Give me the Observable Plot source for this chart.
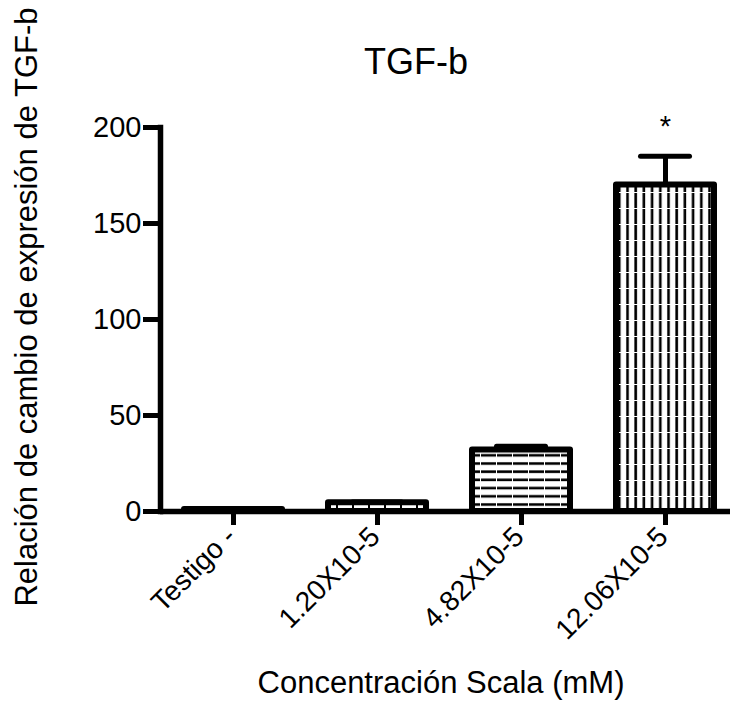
<!DOCTYPE html>
<html>
<head>
<meta charset="utf-8">
<script src="https://cdn.jsdelivr.net/npm/d3@7"></script>
<script src="https://cdn.jsdelivr.net/npm/@observablehq/plot@0.6"></script>
<style>
  html, body { margin: 0; padding: 0; background: white; }
  #chart { width: 730px; height: 708px; }
</style>
</head>
<body>
<div id="chart"></div>
<script>
// ---- data ----
const categories = ["Testigo -", "1.20X10-5", "4.82X10-5", "12.06X10-5"];
const means = [1, 4.5, 32, 170];
const errors = [0, 0.5, 2, 15];
const significance = ["", "", "", "*"];
const yTicks = [0, 50, 100, 150, 200];
const titleText = "TGF-b";
const xLabel = "Concentración Scala (mM)";
const yLabel = "Relación de cambio de expresión de TGF-b";

// ---- styles (fill patterns per bar) ----
const patternFills = ["white", "url(#pat-dash)", "url(#pat-h)", "url(#pat-v)"];

const data = categories.map((c, i) => ({
  cat: c, mean: means[i], err: errors[i], sig: significance[i], fill: patternFills[i]
}));
const withErr = data.filter(d => d.err > 0);

const W = 730, H = 708, ML = 160, MT = 127, MB = 197;

const chart = Plot.plot({
  width: W, height: H,
  marginLeft: ML, marginRight: 0, marginTop: MT, marginBottom: MB,
  style: { fontFamily: "'Liberation Sans', Arial, sans-serif", background: "white", color: "black", overflow: "visible" },
  x: { domain: categories, range: [ML, 739], paddingInner: 0.316, paddingOuter: 0.158, label: null, axis: null },
  y: { domain: [0, 200], range: [H - MB, MT], label: null, axis: null },
  color: { type: "identity" },
  marks: [
    Plot.ruleX(withErr, { x: "cat", y1: "mean", y2: d => d.mean + d.err, strokeWidth: 5 }),
    Plot.tickY(withErr, { x: "cat", y: d => d.mean + d.err, strokeWidth: 5, insetLeft: 24.5, insetRight: 24.5, strokeLinecap: "round" }),
    Plot.barY(data, { x: "cat", y: "mean", fill: "fill", stroke: "black", strokeWidth: 6, strokeLinejoin: "round" }),
    Plot.frame({ anchor: "left", stroke: "black", strokeWidth: 5.5 }),
    Plot.ruleY([0], { stroke: "black", strokeWidth: 5.5 }),
    Plot.axisY({ ticks: yTicks, tickSize: 17, tickPadding: 2, stroke: "black", strokeWidth: 5, fontSize: 29, label: null }),
    Plot.axisX({ tickSize: 14, stroke: "black", strokeWidth: 5, tickFormat: () => "", label: null }),
    Plot.text(data, { x: "cat", frameAnchor: "bottom", text: "cat", rotate: -45, textAnchor: "end", dy: 27, dx: 4, fontSize: 28 }),
    Plot.text(data, { x: "cat", y: d => d.mean + d.err, text: "sig", dy: -30, fontSize: 29 })
  ]
});

const svg = d3.select(chart);
const defs = svg.insert("defs", ":first-child");

// horizontal dashed lines pattern
const ph = defs.append("pattern").attr("id", "pat-h").attr("patternUnits", "userSpaceOnUse")
  .attr("width", 16).attr("height", 8.2);
ph.append("rect").attr("width", 16).attr("height", 8.2).attr("fill", "white");
ph.append("rect").attr("x", 1).attr("y", 3).attr("width", 15).attr("height", 2.6).attr("fill", "black");

// vertical dashed lines pattern
const pv = defs.append("pattern").attr("id", "pat-v").attr("patternUnits", "userSpaceOnUse")
  .attr("width", 8.2).attr("height", 16);
pv.append("rect").attr("width", 8.2).attr("height", 16).attr("fill", "white");
pv.append("rect").attr("x", 3).attr("y", 1).attr("width", 2.6).attr("height", 15).attr("fill", "black");

// small dashes pattern
const pd = defs.append("pattern").attr("id", "pat-dash").attr("patternUnits", "userSpaceOnUse")
  .attr("width", 16).attr("height", 4);
pd.append("rect").attr("width", 16).attr("height", 4).attr("fill", "white");
pd.append("rect").attr("x", 0).attr("y", 0).attr("width", 2).attr("height", 4).attr("fill", "black");

const ff = "'Liberation Sans', Arial, sans-serif";
svg.append("text").attr("x", 416).attr("y", 74).attr("text-anchor", "middle")
  .attr("font-family", ff).attr("font-size", 36).attr("fill", "black").text(titleText);
svg.append("text").attr("x", 441).attr("y", 693).attr("text-anchor", "middle")
  .attr("font-family", ff).attr("font-size", 31).attr("fill", "black").text(xLabel);
svg.append("text").attr("transform", "translate(37,307) rotate(-90)").attr("text-anchor", "middle")
  .attr("font-family", ff).attr("font-size", 31).attr("fill", "black").text(yLabel);

document.getElementById("chart").appendChild(chart);
</script>
</body>
</html>
